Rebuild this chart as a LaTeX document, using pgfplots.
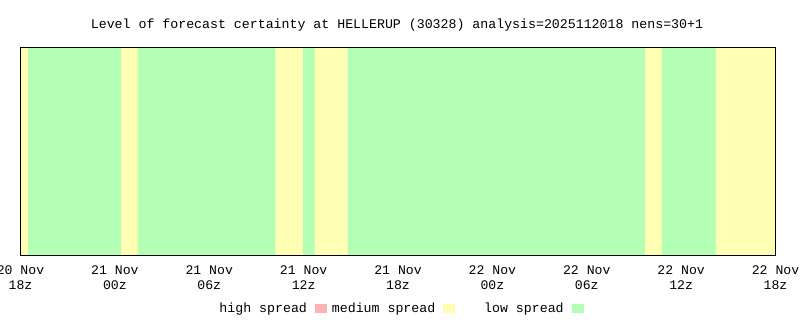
\documentclass[border=0pt]{standalone}
\usepackage{pgfplots}
\pgfplotsset{compat=1.18}
\usepackage{fontspec}
\setmainfont{Liberation Mono}
\setmonofont{Liberation Mono}
\definecolor{lowc}{RGB}{179,255,179}
\definecolor{medc}{RGB}{255,255,179}
\definecolor{highc}{RGB}{255,179,179}
\begin{document}
\begin{tikzpicture}
\useasboundingbox (0,0) rectangle (800bp,320bp);
\node[anchor=base, inner sep=0pt, font=\fontsize{13.3}{15}\selectfont] at (397bp,291bp)
  {Level of forecast certainty at HELLERUP (30328) analysis=2025112018 nens=30+1};
\begin{axis}[
  at={(20.5bp,65bp)}, anchor=south west,
  scale only axis, width=755bp, height=207bp,
  xmin=0, xmax=48, ymin=0, ymax=1,
  ytick=\empty,
  xtick={0,6,...,48},
  xticklabels={{20 Nov\\18z},{21 Nov\\00z},{21 Nov\\06z},{21 Nov\\12z},{21 Nov\\18z},{22 Nov\\00z},{22 Nov\\06z},{22 Nov\\12z},{22 Nov\\18z}},
  major tick length=0pt,
  xticklabel style={align=center, anchor=north, inner sep=0pt, yshift=-10.5bp,
    font=\fontsize{13.2}{15.3}\selectfont},
  axis line style={line width=1bp, black},
  axis on top,
  legend plot pos=right,
  legend cell align=right,
  legend columns=3,
  legend style={at={(0.4914,-0.256)}, anchor=center, draw=none, fill=none,
    font=\fontsize{13.3}{15}\selectfont, inner sep=0pt,
    /tikz/every even column/.append style={column sep=2bp},
    /tikz/every odd column/.append style={column sep=6bp}},
]
\addplot[ybar interval, fill=medc, draw=none, forget plot] table[x=t, y=m] {
t m
0 1
0.48 0
6.39 1
7.47 0
16.2 1
17.97 0
18.7 1
20.8 0
39.7 1
40.78 0
44.2 1
48 0
};
\addplot[ybar interval, fill=lowc, draw=none, forget plot] table[x=t, y=l] {
t l
0 0
0.48 1
6.39 0
7.47 1
16.2 0
17.97 1
18.7 0
20.8 1
39.7 0
40.78 1
44.2 0
48 0
};
\addlegendimage{legend image code/.code={\fill[highc] (0bp,-4bp) rectangle (11bp,4bp);}}
\addlegendentry{\makebox[105bp][r]{high spread}}
\addlegendimage{legend image code/.code={\fill[medc] (0bp,-4bp) rectangle (11bp,4bp);}}
\addlegendentry{\makebox[105bp][r]{medium spread}}
\addlegendimage{legend image code/.code={\fill[lowc] (0bp,-4bp) rectangle (11bp,4bp);}}
\addlegendentry{\makebox[105bp][r]{low spread}}
\end{axis}
\end{tikzpicture}
\end{document}
